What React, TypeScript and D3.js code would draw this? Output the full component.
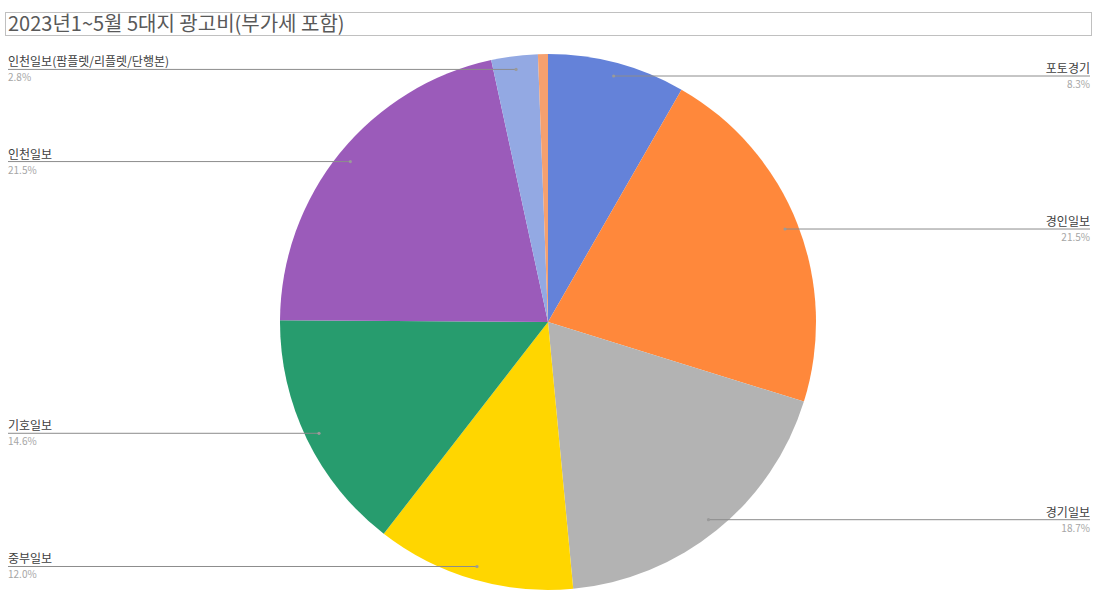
import React from 'react';
import * as d3 from 'd3';

const title = '2023년1~5월 5대지 광고비(부가세 포함)';
const categories = ['포토경기', '경인일보', '경기일보', '중부일보', '기호일보', '인천일보', '인천일보(팜플렛/리플렛/단행본)', '기타'];
const values = [8.3, 21.5, 18.7, 12.0, 14.6, 21.5, 2.8, 0.6];
const showLabel = [true, true, true, true, true, true, true, false];
const colors = ['#6482d9', '#ff883b', '#b3b3b3', '#ffd600', '#279c6e', '#9b5bba', '#93a9e3', '#f5a06f'];

const W = 1100;
const H = 610;
const cx = 548;
const cy = 322;
const R = 268;
const FONT = '"Noto Sans CJK KR", "Noto Sans", sans-serif';

export default function App() {
  const total = d3.sum(values);
  const pie = d3.pie<number>().sort(null).value((d) => d).startAngle(0).endAngle(2 * Math.PI);
  const arcs = pie(values);
  const arc = d3.arc<d3.PieArcDatum<number>>().innerRadius(0).outerRadius(R);
  const fmt = (v: number) => (v / total * 100).toFixed(1) + '%';

  return (
    <svg width={W} height={H} style={{ position: 'absolute', left: 0, top: 0, background: '#fff' }} fontFamily={FONT}>
      <rect x={5.5} y={12.5} width={1086} height={23} fill="none" stroke="#c0c0c0" strokeWidth={1} />
      <text x={8} y={30.5} fontSize={20} fill="#595959">{title}</text>
      <g transform={`translate(${cx},${cy})`}>
        {arcs.map((a, i) => (
          <path key={i} d={arc(a) || ''} fill={colors[i]} />
        ))}
      </g>
      {arcs.map((a, i) => {
        if (!showLabel[i]) return null;
        const mid = (a.startAngle + a.endAngle) / 2;
        const r2 = R * 0.95;
        const px = cx + r2 * Math.sin(mid);
        const py = cy - r2 * Math.cos(mid);
        const right = mid < Math.PI;
        const ex = right ? 1090 : 8;
        const anchor = right ? 'end' : 'start';
        return (
          <g key={'l' + i}>
            <line x1={px} y1={py} x2={ex} y2={py} stroke="#8c8c8c" strokeWidth={1} />
            <circle cx={px} cy={py} r={1.6} fill="#9a9a9a" />
            <text x={ex} y={py - 3} fontSize={12} fill="#404040" textAnchor={anchor}>{categories[i]}</text>
            <text x={ex} y={py + 12} fontSize={10} fill="#a6a6a6" textAnchor={anchor}>{fmt(values[i])}</text>
          </g>
        );
      })}
    </svg>
  );
}
